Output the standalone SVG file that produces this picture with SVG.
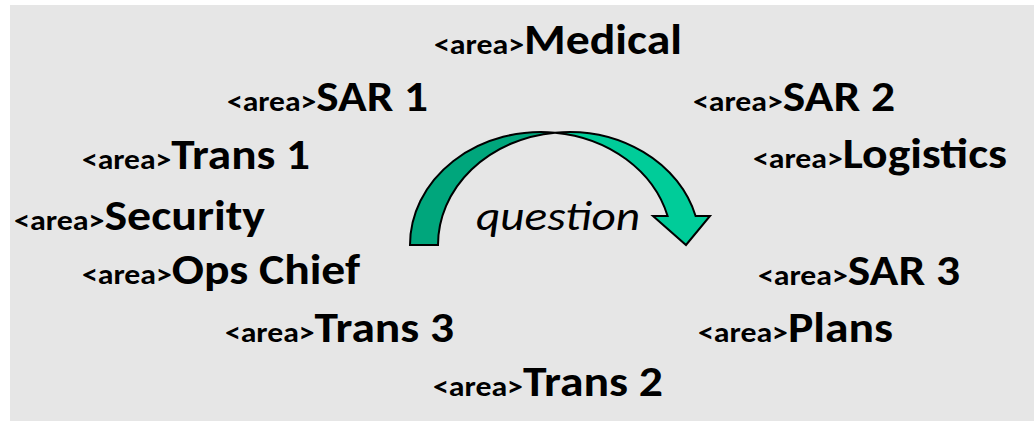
<svg xmlns="http://www.w3.org/2000/svg" width="1034" height="421" viewBox="0 0 1034 421">
  <style>
    .lbl { font-family: Carlito, Calibri, Lato, "Liberation Sans", sans-serif; font-weight: bold; fill: #000; }
    .tag { font-size: 28px; }
    .name { font-size: 42px; }
    .q { font-family: Carlito, Calibri, Lato, "Liberation Sans", sans-serif; font-style: italic; font-size: 42px; fill: #000; }
    .back { fill: #00a67c; stroke: #000; stroke-width: 2; stroke-linejoin: miter; }
    .front { fill: #00cc99; stroke: #000; stroke-width: 2; stroke-linejoin: miter; }
  </style>

  <!-- panel -->
  <rect x="10" y="5" width="1024" height="416" fill="#e6e6e6"/>

  <!-- curved down arrow: two equal ellipses (centres 541 and 569, y 245) offset by the band width -->
  <g id="connectors">
    <path class="back" d="M410,245 A131,113 0 0 1 555,132.65 A131,113 0 0 0 438,245 Z"/>
    <path class="front" d="M555,132.65 A131,113 0 0 1 695.6,216 L710,216 L686,245 L653,216 L667.6,216 A131,113 0 0 0 555,132.65 Z"/>
    <text class="q" x="476" y="230" textLength="164" lengthAdjust="spacingAndGlyphs">question</text>
  </g>

  <g id="node-medical">
    <text class="lbl" x="434" y="54" textLength="248" lengthAdjust="spacingAndGlyphs"><tspan class="tag">&lt;area&gt;</tspan><tspan class="name">Medical</tspan></text>
  </g>
  <g id="node-sar1">
    <text class="lbl" x="227" y="111" textLength="201" lengthAdjust="spacingAndGlyphs"><tspan class="tag">&lt;area&gt;</tspan><tspan class="name">SAR 1</tspan></text>
  </g>
  <g id="node-sar2">
    <text class="lbl" x="693" y="111" textLength="202" lengthAdjust="spacingAndGlyphs"><tspan class="tag">&lt;area&gt;</tspan><tspan class="name">SAR 2</tspan></text>
  </g>
  <g id="node-trans1">
    <text class="lbl" x="82" y="169" textLength="228" lengthAdjust="spacingAndGlyphs"><tspan class="tag">&lt;area&gt;</tspan><tspan class="name">Trans 1</tspan></text>
  </g>
  <g id="node-logistics">
    <text class="lbl" x="753" y="168" textLength="254" lengthAdjust="spacingAndGlyphs"><tspan class="tag">&lt;area&gt;</tspan><tspan class="name">Logistics</tspan></text>
  </g>
  <g id="node-security">
    <text class="lbl" x="14" y="230" textLength="251" lengthAdjust="spacingAndGlyphs"><tspan class="tag">&lt;area&gt;</tspan><tspan class="name">Security</tspan></text>
  </g>
  <g id="node-ops-chief">
    <text class="lbl" x="82" y="284" textLength="278" lengthAdjust="spacingAndGlyphs"><tspan class="tag">&lt;area&gt;</tspan><tspan class="name">Ops Chief</tspan></text>
  </g>
  <g id="node-sar3">
    <text class="lbl" x="758" y="285" textLength="202" lengthAdjust="spacingAndGlyphs"><tspan class="tag">&lt;area&gt;</tspan><tspan class="name">SAR 3</tspan></text>
  </g>
  <g id="node-trans3">
    <text class="lbl" x="225" y="342" textLength="229" lengthAdjust="spacingAndGlyphs"><tspan class="tag">&lt;area&gt;</tspan><tspan class="name">Trans 3</tspan></text>
  </g>
  <g id="node-plans">
    <text class="lbl" x="698" y="342" textLength="195" lengthAdjust="spacingAndGlyphs"><tspan class="tag">&lt;area&gt;</tspan><tspan class="name">Plans</tspan></text>
  </g>
  <g id="node-trans2">
    <text class="lbl" x="433" y="396" textLength="230" lengthAdjust="spacingAndGlyphs"><tspan class="tag">&lt;area&gt;</tspan><tspan class="name">Trans 2</tspan></text>
  </g>
</svg>
